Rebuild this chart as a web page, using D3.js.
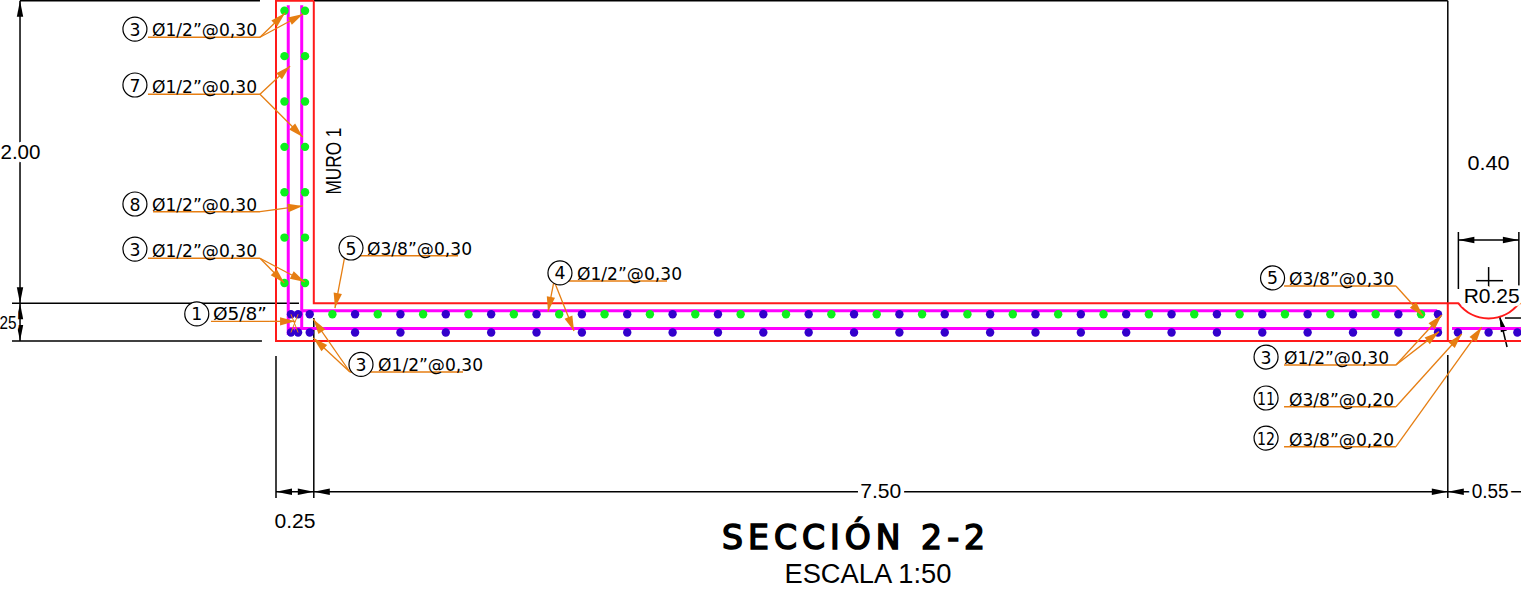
<!DOCTYPE html>
<html>
<head>
<meta charset="utf-8">
<title>Seccion 2-2</title>
<script src="https://cdn.jsdelivr.net/npm/d3@7"></script>
<style>
  html, body { margin: 0; background: #fff; overflow: hidden; }
  svg { display: block; }
  .dim { font-family: "Liberation Sans", Arial, sans-serif; fill: #000; paint-order: stroke; stroke: #fff; stroke-width: 7px; }
  .bar-label { font-family: "DejaVu Sans", sans-serif; fill: #000; }
</style>
</head>
<body>
<svg id="chart" width="1521" height="601"></svg>
<script>
// everything below is in metres, measured from the bottom left corner of the section
const wallGreenX = [0.056, 0.192];
const wallGreenY = [0.384, 0.684, 0.984, 1.284, 1.584, 1.884, 2.184];

const slabTopY = 0.177;
const slabBottomY = 0.056;
const slabBlueX = [0.223, 0.523, 0.823, 1.123, 1.423, 1.723, 2.023, 2.323, 2.623, 2.923, 3.223, 3.523, 3.823,
  4.123, 4.423, 4.723, 5.023, 5.323, 5.623, 5.923, 6.223, 6.523, 6.823, 7.123, 7.423, 7.685];
const slabGreenX = [0.373, 0.673, 0.973, 1.273, 1.573, 1.873, 2.173, 2.473, 2.773, 3.073, 3.373, 3.673, 3.973,
  4.273, 4.573, 4.873, 5.173, 5.473, 5.773, 6.073, 6.373, 6.673, 6.973, 7.273, 7.573];
const cornerBlueX = [0.099, 0.146];
const stepBlueX = [7.817, 8.02, 8.21];

// red concrete outline, the step arc is added separately
const outlineWall = [[0.25, 2.25], [0, 2.25], [0, 0], [8.234, 0]];
const outlineSlab = [[0.25, 2.25], [0.25, 0.25], [7.823, 0.25]];
const outlineJoint = [[7.75, 0.25], [7.75, 0]];
const outlineEnd = [[8.217, 0.25], [8.234, 0.25]];
const stepCentre = [8.02, 0.399];
const stepRadius = 0.25;

// magenta steel lines
const steelLines = [
  [[0.081, 2.22], [0.081, 0.04]],
  [[0.17, 2.22], [0.17, 0.083]],
  [[0.17, 0.2], [7.68, 0.2]],
  [[0.081, 0.083], [7.71, 0.083]],
  [[7.778, 0.083], [8.234, 0.083]]
];

// black dimension lines
const dimLines = [
  [[0.25, 2.25], [7.75, 2.25]],
  [[7.75, 2.25], [7.75, 0.25]],
  [[-1.693, 2.25], [-0.106, 2.25]],
  [[-1.693, 2.25], [-1.693, 0]],
  [[-1.746, 0.25], [0.152, 0.25]],
  [[-1.746, 0], [-0.093, 0]],
  [[0, -0.997], [3.849, -0.997]],
  [[4.153, -0.997], [7.897, -0.997]],
  [[8.161, -0.997], [8.234, -0.997]],
  [[0, -0.099], [0, -1.038]],
  [[0.25, 0.152], [0.25, -1.038]],
  [[7.75, -0.093], [7.75, -1.038]],
  [[7.82, 0.668], [8.22, 0.668]],
  [[7.82, 0.721], [7.82, 0.344]],
  [[8.22, 0.721], [8.22, 0.344]],
  [[7.937, 0.399], [8.115, 0.399]],
  [[8.02, 0.489], [8.02, 0.304]],
  [[8.142, -0.04], [8.092, 0.165]],
  [[8.128, 0.152], [8.234, 0.152]]
];

// [tip, tail]
const dimArrows = [
  [[-1.693, 2.25], [-1.693, 2.15]],
  [[-1.693, 0.25], [-1.693, 0.35]],
  [[-1.693, 0.25], [-1.693, 0.15]],
  [[-1.693, 0], [-1.693, 0.1]],
  [[0, -0.997], [0.1, -0.997]],
  [[0.25, -0.997], [0.15, -0.997]],
  [[0.25, -0.997], [0.35, -0.997]],
  [[7.75, -0.997], [7.65, -0.997]],
  [[7.75, -0.997], [7.85, -0.997]],
  [[7.82, 0.668], [7.93, 0.668]],
  [[8.22, 0.668], [8.11, 0.668]],
  [[8.092, 0.165], [8.122, 0.06]]
];

const dimTexts = [
  { text: "2.00", x: -1.69, y: 1.204, size: 21, anchor: "middle", w: 40 },
  { text: "25", x: -1.716, y: 0.079, size: 19, anchor: "end", w: 17 },
  { text: "7.50", x: 4.0, y: -1.04, size: 21, anchor: "middle", w: 41 },
  { text: "0.55", x: 8.03, y: -1.04, size: 20, anchor: "middle", w: 37 },
  { text: "0.25", x: 0.126, y: -1.237, size: 20, anchor: "middle", w: 41 },
  { text: "0.40", x: 8.02, y: 1.131, size: 20, anchor: "middle", w: 42 },
  { text: "R0.25", x: 8.04, y: 0.25, size: 21, anchor: "middle", w: 56 }
];

const callouts = [
  { n: "3", text: "Ø1/2”@0,30", cx: -0.933, cy: 2.063, tx: -0.82, uy: 2.009, x1: -0.847, x2: -0.106, from: -0.106, tips: [[0.06, 2.169], [0.179, 2.163]] },
  { n: "7", text: "Ø1/2”@0,30", cx: -0.933, cy: 1.693, tx: -0.82, uy: 1.632, x1: -0.847, x2: -0.106, from: -0.106, tips: [[0.093, 1.819], [0.177, 1.349]] },
  { n: "8", text: "Ø1/2”@0,30", cx: -0.933, cy: 0.906, tx: -0.82, uy: 0.855, x1: -0.813, x2: -0.106, from: -0.106, tips: [[0.177, 0.893]] },
  { n: "3", text: "Ø1/2”@0,30", cx: -0.933, cy: 0.608, tx: -0.82, uy: 0.547, x1: -0.847, x2: -0.106, from: -0.106, tips: [[0.055, 0.384], [0.192, 0.39]] },
  { n: "1", text: "Ø5/8”", cx: -0.524, cy: 0.179, tx: -0.417, uy: 0.13, x1: -0.43, x2: -0.04, from: -0.04, tips: [[0.126, 0.13]], w: 54 },
  { n: "5", text: "Ø3/8”@0,30", cx: 0.496, cy: 0.615, tx: 0.602, uy: 0.564, x1: 0.456, x2: 1.204, from: 0.456, tips: [[0.39, 0.218]] },
  { n: "4", text: "Ø1/2”@0,30", cx: 1.878, cy: 0.45, tx: 1.991, uy: 0.397, x1: 1.839, x2: 2.586, from: 1.839, tips: [[1.799, 0.194], [1.971, 0.066]] },
  { n: "3", text: "Ø1/2”@0,30", cx: 0.562, cy: -0.155, tx: 0.675, uy: -0.205, x1: 0.489, x2: 1.237, from: 0.489, tips: [[0.247, 0.144], [0.247, 0.02]] },
  { n: "5", text: "Ø3/8”@0,30", cx: 6.591, cy: 0.417, tx: 6.7, uy: 0.364, x1: 6.667, x2: 7.407, from: 7.407, tips: [[7.586, 0.165]] },
  { n: "3", text: "Ø1/2”@0,30", cx: 6.548, cy: -0.106, tx: 6.667, uy: -0.159, x1: 6.667, x2: 7.407, from: 7.407, tips: [[7.71, 0.172], [7.692, 0.062]] },
  { n: "11", text: "Ø3/8”@0,20", cx: 6.548, cy: -0.377, tx: 6.7, uy: -0.435, x1: 6.667, x2: 7.407, from: 7.407, tips: [[7.842, 0.046]] },
  { n: "12", text: "Ø3/8”@0,20", cx: 6.548, cy: -0.642, tx: 6.7, uy: -0.699, x1: 6.667, x2: 7.407, from: 7.407, tips: [[7.974, 0.091]] }
];

// the thin crossed ties at the wall foot
const ties = [
  [[0.099, 0.177], [0.146, 0.056]],
  [[0.146, 0.177], [0.099, 0.056]]
];

const RED = "#ff1a1a", MAGENTA = "#ff00ff", GREEN = "#0cf01c", BLUE = "#3300cc", ORANGE = "#e67e12";

const x = d3.scaleLinear().domain([0, 7.75]).range([276, 1447.8]);
const y = d3.scaleLinear().domain([0, 2.25]).range([341, 0.8]);
const line = d3.line().x(d => x(d[0])).y(d => y(d[1]));

const svg = d3.select("#chart");

function drawLines(data, color, width) {
  svg.append("g").selectAll("path").data(data).join("path")
    .attr("d", line)
    .attr("fill", "none")
    .attr("stroke", color)
    .attr("stroke-width", width);
}

// arrowhead as a triangle ending at the tip, pointing away from the tail
function arrowHead(tip, tail, len, half) {
  const tx = x(tip[0]), ty = y(tip[1]);
  const a = Math.atan2(y(tail[1]) - ty, x(tail[0]) - tx);
  const bx = tx + Math.cos(a) * len, by = ty + Math.sin(a) * len;
  const nx = -Math.sin(a) * half, ny = Math.cos(a) * half;
  return `M${tx},${ty}L${bx + nx},${by + ny}L${bx - nx},${by - ny}Z`;
}

// black dimensions go below the rest
drawLines(dimLines, "#000", 1.5);
svg.append("g").selectAll("path").data(dimArrows).join("path")
  .attr("d", d => arrowHead(d[0], d[1], 16, 3.2))
  .attr("fill", "#000");

// concrete outline
drawLines([outlineWall, outlineSlab, outlineJoint, outlineEnd], RED, 2);
const dy = stepCentre[1] - 0.25;
const sweep = Math.asin(dy / stepRadius);
const stepPath = d3.path();
stepPath.arc(x(stepCentre[0]), y(stepCentre[1]), x(stepRadius) - x(0), Math.PI - sweep, sweep, true);
svg.append("path").attr("d", stepPath.toString())
  .attr("fill", "none").attr("stroke", RED).attr("stroke-width", 2);

drawLines(steelLines, MAGENTA, 3);

// bars
const bars = svg.append("g");
function drawBars(pts, color) {
  bars.append("g").selectAll("circle").data(pts).join("circle")
    .attr("cx", d => x(d[0]))
    .attr("cy", d => y(d[1]))
    .attr("r", 4.2)
    .attr("fill", color);
}
drawBars(d3.cross(wallGreenX, wallGreenY), GREEN);
drawBars(slabGreenX.map(v => [v, slabTopY]), GREEN);
drawBars(slabBlueX.map(v => [v, slabTopY]), BLUE);
drawBars(slabBlueX.map(v => [v, slabBottomY]), BLUE);
drawBars(cornerBlueX.map(v => [v, slabTopY]), BLUE);
drawBars(cornerBlueX.map(v => [v, slabBottomY]), BLUE);
drawBars(stepBlueX.map(v => [v, slabBottomY]), BLUE);

drawLines(ties, ORANGE, 1);

// dimension texts, masked so the dimension line breaks around them
svg.append("g").selectAll("text").data(dimTexts).join("text")
  .attr("class", "dim")
  .attr("x", d => x(d.x)).attr("y", d => y(d.y))
  .attr("font-size", d => d.size)
  .attr("text-anchor", d => d.anchor)
  .attr("textLength", d => d.w)
  .attr("lengthAdjust", "spacingAndGlyphs")
  .text(d => d.text);

// callouts: number in a circle, underlined text, leaders with arrowheads
const notes = svg.append("g").selectAll("g").data(callouts).join("g");
notes.append("path")
  .attr("d", d => line([[d.x1, d.uy], [d.x2, d.uy]]))
  .attr("stroke", ORANGE).attr("stroke-width", 1.4);
notes.selectAll(".leader").data(d => d.tips.map(t => ({ tip: t, tail: [d.from, d.uy] }))).join("path")
  .attr("class", "leader")
  .attr("d", d => line([d.tail, d.tip]))
  .attr("stroke", ORANGE).attr("stroke-width", 1.3).attr("fill", "none");
notes.selectAll(".head").data(d => d.tips.map(t => ({ tip: t, tail: [d.from, d.uy] }))).join("path")
  .attr("class", "head")
  .attr("d", d => arrowHead(d.tip, d.tail, 15, 4.2))
  .attr("fill", ORANGE);
notes.append("circle")
  .attr("cx", d => x(d.cx)).attr("cy", d => y(d.cy)).attr("r", 12)
  .attr("fill", "#fff").attr("stroke", "#000").attr("stroke-width", 1.2);
notes.append("text").attr("class", "bar-label")
  .attr("x", d => x(d.cx)).attr("y", d => y(d.cy) + 6.5)
  .attr("text-anchor", "middle").attr("font-size", 18)
  .attr("textLength", d => d.n.length > 1 ? 18 : 11)
  .attr("lengthAdjust", "spacingAndGlyphs")
  .text(d => d.n);
notes.append("text").attr("class", "bar-label")
  .attr("x", d => x(d.tx)).attr("y", d => y(d.uy) - 1)
  .attr("font-size", 18.5)
  .attr("textLength", d => d.w || 105)
  .attr("lengthAdjust", "spacingAndGlyphs")
  .text(d => d.text);

svg.append("text")
  .attr("transform", `translate(${x(0.43)},${y(1.19)}) rotate(-90)`)
  .attr("text-anchor", "middle")
  .attr("font-family", "Liberation Sans")
  .attr("font-size", 22)
  .attr("textLength", 67)
  .attr("lengthAdjust", "spacingAndGlyphs")
  .text("MURO 1");

svg.append("text")
  .attr("x", x(3.82)).attr("y", y(-1.376))
  .attr("text-anchor", "middle")
  .attr("font-family", "DejaVu Sans")
  .attr("font-size", 33)
  .attr("stroke", "#000")
  .attr("stroke-width", 1.6)
  .attr("textLength", 263)
  .attr("lengthAdjust", "spacing")
  .text("SECCIÓN 2-2");

svg.append("text")
  .attr("x", x(3.915)).attr("y", y(-1.6))
  .attr("text-anchor", "middle")
  .attr("font-family", "Liberation Sans")
  .attr("font-size", 27)
  .attr("textLength", 167)
  .attr("lengthAdjust", "spacingAndGlyphs")
  .text("ESCALA 1:50");
</script>
</body>
</html>
